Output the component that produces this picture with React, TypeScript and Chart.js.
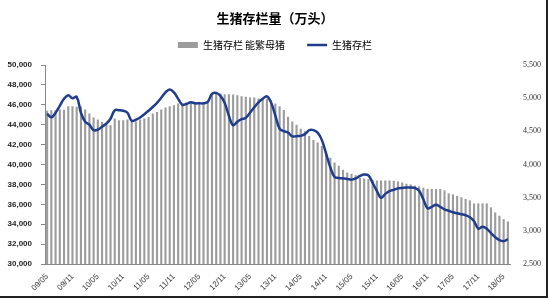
import { useEffect, useRef } from 'react';
import { Chart, registerables } from 'chart.js';
Chart.register(...registerables);

const months = [
  '09/05','09/06','09/07','09/08','09/09','09/10','09/11','09/12',
  '10/01','10/02','10/03','10/04','10/05','10/06','10/07','10/08','10/09','10/10','10/11','10/12',
  '11/01','11/02','11/03','11/04','11/05','11/06','11/07','11/08','11/09','11/10','11/11','11/12',
  '12/01','12/02','12/03','12/04','12/05','12/06','12/07','12/08','12/09','12/10','12/11','12/12',
  '13/01','13/02','13/03','13/04','13/05','13/06','13/07','13/08','13/09','13/10','13/11','13/12',
  '14/01','14/02','14/03','14/04','14/05','14/06','14/07','14/08','14/09','14/10','14/11','14/12',
  '15/01','15/02','15/03','15/04','15/05','15/06','15/07','15/08','15/09','15/10','15/11','15/12',
  '16/01','16/02','16/03','16/04','16/05','16/06','16/07','16/08','16/09','16/10','16/11','16/12',
  '17/01','17/02','17/03','17/04','17/05','17/06','17/07','17/08','17/09','17/10','17/11','17/12',
  '18/01','18/02','18/03','18/04','18/05','18/06',
];

// 能繁母猪 (right axis, bars)
const sowStock = [
  4810, 4818, 4818, 4830, 4825, 4878, 4878, 4870, 4878, 4828,
  4770, 4707, 4677, 4640, 4616, 4590, 4692, 4666, 4666, 4677,
  4640, 4650, 4677, 4692, 4717, 4768, 4793, 4828, 4859, 4878,
  4894, 4919, 4919, 4919, 4929, 4929, 4929, 4929, 4929, 5045,
  5071, 5071, 5060, 5060, 5055, 5045, 5030, 5020, 5010, 5010,
  4995, 5000, 4995, 4970, 4920, 4880, 4820, 4720, 4650, 4600,
  4540, 4500, 4430, 4370, 4330, 4280, 4200, 4100, 4030, 3980,
  3920, 3880, 3860, 3840, 3800, 3790, 3780, 3770, 3760, 3760,
  3760, 3760, 3755, 3745, 3730, 3710, 3700, 3682, 3670, 3650,
  3632, 3632, 3632, 3632, 3610, 3566, 3550, 3525, 3505, 3480,
  3460, 3414, 3414, 3414, 3414, 3353, 3277, 3227, 3177, 3141,
];

// 生猪存栏 (left axis, line)
const hogStock = [
  45100, 44750, 45200, 45900, 46600, 46950, 46650, 46800, 45200, 44300,
  44000, 43450, 43500, 43800, 44100, 44600, 45450, 45450, 45400, 45200,
  44400, 44500, 44720, 45050, 45400, 45780, 46200, 46700, 47250, 47550,
  47250, 46600, 46000, 46100, 46250, 46150, 46150, 46150, 46300, 47100,
  47200, 46900, 46200, 44900, 43950, 44300, 44550, 44700, 45200, 45750,
  46250, 46600, 46850, 46200, 44900, 43600, 43350, 43200, 42830, 42850,
  42880, 43050, 43450, 43450, 43200, 42450, 41100, 39700, 38750, 38650,
  38600, 38550, 38480, 38600, 38850, 39000, 38900, 38150, 37350, 36650,
  37050, 37330, 37450, 37600, 37650, 37680, 37700, 37650, 37350, 36500,
  35600, 35750, 35950, 35750, 35500, 35350, 35200, 35100, 35000, 34900,
  34700, 34300, 33550, 33750, 33550, 33100, 32700, 32400, 32300, 32500,
];

const titleText = '生猪存栏量（万头）';
const barLabel = '生猪存栏 能繁母猪';
const lineLabel = '生猪存栏';

const BAR_COLOR = '#9c9c9c';
const LINE_COLOR = '#1f3d8c';
const CJK = '"Noto Sans CJK SC", "Noto Sans", sans-serif';

export default function App() {
  const ref = useRef<HTMLCanvasElement | null>(null);

  useEffect(() => {
    if (!ref.current) return;
    const chart = new Chart(ref.current, {
      type: 'bar',
      data: {
        labels: months,
        datasets: [
          {
            type: 'line',
            label: lineLabel,
            data: hogStock,
            yAxisID: 'y',
            borderColor: LINE_COLOR,
            backgroundColor: LINE_COLOR,
            borderWidth: 2.5,
            pointRadius: 0,
            tension: 0.4,
            order: 1,
          },
          {
            type: 'bar',
            label: barLabel,
            data: sowStock,
            yAxisID: 'y1',
            backgroundColor: BAR_COLOR,
            borderWidth: 0,
            barPercentage: 0.5,
            categoryPercentage: 1,
            order: 2,
          },
        ],
      },
      options: {
        animation: false,
        responsive: true,
        maintainAspectRatio: false,
        layout: { padding: 0 },
        plugins: {
          tooltip: { enabled: false },
          title: {
            display: true,
            text: titleText,
            color: '#000',
            font: { family: CJK, size: 13, weight: 'bold' },
            padding: { top: 10, bottom: -7.6 },
          },
          subtitle: {
            display: true,
            text: '',
            weight: 500,
            font: { size: 1 },
            padding: { top: 3.8, bottom: 0 },
          } as any,
          legend: {
            display: true,
            position: 'top',
            labels: {
              usePointStyle: true,
              pointStyleWidth: 20,
              boxHeight: 6,
              padding: 22,
              color: '#222',
              font: { family: CJK, size: 10 },
              generateLabels: () => [
                {
                  text: barLabel,
                  fillStyle: BAR_COLOR,
                  strokeStyle: BAR_COLOR,
                  lineWidth: 0,
                  pointStyle: 'rect',
                  datasetIndex: 1,
                  hidden: false,
                } as any,
                {
                  text: lineLabel,
                  fillStyle: LINE_COLOR,
                  strokeStyle: LINE_COLOR,
                  lineWidth: 2.5,
                  pointStyle: 'line',
                  datasetIndex: 0,
                  hidden: false,
                } as any,
              ],
            },
          },
        },
        scales: {
          x: {
            type: 'category',
            offset: true,
            grid: { display: false },
            border: { display: true, color: '#888' },
            ticks: {
              autoSkip: false,
              maxRotation: 45,
              minRotation: 45,
              padding: 0,
              color: '#333',
              font: { family: '"Liberation Sans", sans-serif', size: 8 },
              callback: (_v: any, i: number) => (i % 6 === 0 ? months[i] : ''),
            },
            afterFit: (s: any) => { s.height = 36; },
          },
          y: {
            position: 'left',
            min: 30000,
            max: 50000,
            grid: { drawOnChartArea: false, tickLength: 4, color: '#888' },
            border: { display: true, color: '#888' },
            ticks: {
              stepSize: 2000,
              padding: 9,
              color: '#222',
              font: { family: '"Liberation Sans", sans-serif', size: 8, weight: 'bold' },
              callback: (v: any) => Number(v).toLocaleString('en-US'),
            },
            afterFit: (s: any) => { s.width = 45; },
          },
          y1: {
            position: 'right',
            min: 2500,
            max: 5500,
            grid: { display: false },
            border: { display: false },
            ticks: {
              stepSize: 500,
              padding: 5,
              color: '#333',
              font: { family: '"Liberation Serif", serif', size: 8 },
              callback: (v: any) => Number(v).toLocaleString('en-US'),
            },
            afterFit: (s: any) => { s.width = 40; },
          },
        },
      },
    });
    return () => chart.destroy();
  }, []);

  return (
    <div style={{ position: 'fixed', left: 0, top: 0, width: 550, height: 300, background: '#fff' }}>
      <canvas ref={ref} style={{ width: 550, height: 300 }} />
      <div
        style={{
          position: 'absolute', left: 0, top: 0, width: 546, height: 296,
          borderRight: '2px solid #222', borderBottom: '2px solid #222', pointerEvents: 'none',
        }}
      />
    </div>
  );
}
